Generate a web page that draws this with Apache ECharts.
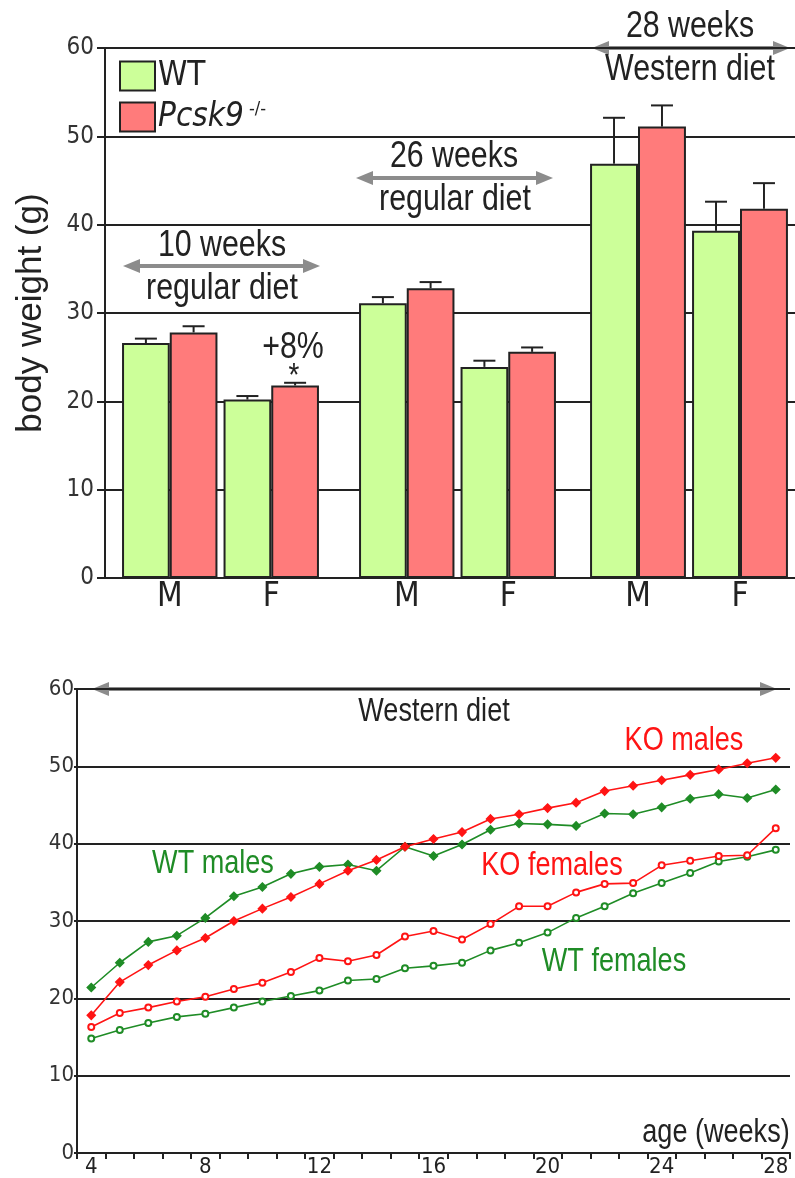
<!DOCTYPE html>
<html>
<head>
<meta charset="utf-8">
<script src="https://cdn.jsdelivr.net/npm/echarts@6/dist/echarts.min.js"></script>
<style>
html,body{margin:0;padding:0;background:#fff;}
#chart{width:795px;height:1178px;}
</style>
</head>
<body>
<div id="chart"></div>
<script>
// ---- Top chart data (body weight, g) ----
const barCategories = ['M', 'F'];
const wtMean = [26.6, 20.2, 31.1, 23.9, 46.9, 39.3];
const wtErr  = [0.5, 0.4, 0.7, 0.7, 5.2, 3.3];
const koMean = [27.8, 21.8, 32.8, 25.6, 51.1, 41.8];
const koErr  = [0.7, 0.3, 0.7, 0.5, 2.4, 2.9];
const yTicksTop = [0, 10, 20, 30, 40, 50, 60];

// ---- Bottom chart data (weekly weights on Western diet) ----
const weeks = ['4','5','6','7','8','9','10','11','12','13','14','15','16','17','18','19','20','21','22','23','24','25','26','27','28'];
const wtMales   = [21.4, 24.6, 27.3, 28.1, 30.4, 33.2, 34.4, 36.1, 37.0, 37.3, 36.5, 39.6, 38.4, 39.9, 41.8, 42.6, 42.5, 42.3, 43.9, 43.8, 44.7, 45.8, 46.4, 45.9, 47.0];
const koMales   = [17.8, 22.1, 24.3, 26.2, 27.8, 30.0, 31.6, 33.1, 34.8, 36.5, 37.9, 39.6, 40.6, 41.5, 43.2, 43.8, 44.6, 45.3, 46.8, 47.5, 48.2, 48.9, 49.6, 50.4, 51.1];
const koFemales = [16.3, 18.1, 18.8, 19.6, 20.2, 21.2, 22.0, 23.4, 25.2, 24.8, 25.6, 28.0, 28.7, 27.6, 29.6, 31.9, 31.9, 33.7, 34.8, 34.9, 37.2, 37.8, 38.4, 38.5, 42.0];
const wtFemales = [14.8, 15.9, 16.8, 17.6, 18.0, 18.8, 19.6, 20.3, 21.0, 22.3, 22.5, 23.9, 24.2, 24.6, 26.2, 27.2, 28.5, 30.4, 31.9, 33.6, 34.9, 36.2, 37.7, 38.3, 39.2];

const FONT = "'DejaVu Sans Condensed', 'Liberation Sans', sans-serif";
const ARIAL = "'Liberation Sans', Arial, sans-serif";
const GREEN_BAR = '#ccff99';
const RED_BAR = '#ff7b7b';
const RED = '#ff1414';
const GREEN = '#1f8c26';
const GRAY = '#8c8c8c';
const CAT_GAP = 0.06;

const chart = echarts.init(document.getElementById('chart'));

const barGrids = [
  {left: 119, width: 203},
  {left: 356, width: 203},
  {left: 587, width: 204}
];

const grids = [{left: 105, right: 0, top: 48, height: 530}];
barGrids.forEach(g => grids.push({left: g.left, width: g.width, top: 48, height: 530}));
grids.push({left: 77, right: 5, top: 689, bottom: 25});

const xAxes = [{
  gridIndex: 0, type: 'value', min: 0, max: 1,
  axisLine: {show: true, lineStyle: {color: '#222', width: 2}},
  axisTick: {show: false}, axisLabel: {show: false}, splitLine: {show: false}
}];
const yAxes = [{
  gridIndex: 0, type: 'value', min: 0, max: 60, interval: 10,
  axisLine: {show: true, lineStyle: {color: '#222', width: 2}},
  axisTick: {show: true, inside: false, length: 8, lineStyle: {color: '#222', width: 2}},
  axisLabel: {fontSize: 24, color: '#333', fontFamily: FONT, margin: 11,
    formatter: v => yTicksTop.includes(v) ? String(v) : ''},
  splitLine: {show: true, lineStyle: {color: '#222', width: 2}},
  name: 'body weight (g)', nameLocation: 'middle', nameGap: 56,
  nameTextStyle: {fontSize: 35, color: '#222', fontFamily: ARIAL}
}];
barGrids.forEach((g, i) => {
  xAxes.push({
    gridIndex: i + 1, type: 'category', data: barCategories,
    axisLine: {show: false}, axisTick: {show: false},
    axisLabel: {fontSize: 33, color: '#222', fontFamily: FONT, margin: 3}
  });
  yAxes.push({gridIndex: i + 1, type: 'value', min: 0, max: 60, show: false});
});
xAxes.push({
  gridIndex: 4, type: 'category', data: weeks, boundaryGap: true,
  axisLine: {show: true, lineStyle: {color: '#222', width: 2}},
  axisTick: {show: true, interval: 0, length: 6, alignWithLabel: false, lineStyle: {color: '#222', width: 2}},
  axisLabel: {interval: (idx, val) => Number(val) % 4 === 0, fontSize: 22, color: '#222', fontFamily: FONT, margin: 3}
});
yAxes.push({
  gridIndex: 4, type: 'value', min: 0, max: 60, interval: 10,
  axisLine: {show: true, lineStyle: {color: '#222', width: 2}},
  axisTick: {show: true, length: 3, lineStyle: {color: '#222', width: 2}},
  axisLabel: {fontSize: 22, color: '#333', fontFamily: FONT, margin: 3},
  splitLine: {show: true, lineStyle: {color: '#222', width: 2}}
});

function errRender(params, api) {
  const cat = api.value(0), mean = api.value(1), err = api.value(2), side = api.value(3);
  const base = api.coord([cat, mean]);
  const top = api.coord([cat, mean + err]);
  const catW = api.size([1, 0])[0];
  const barW = catW * (1 - CAT_GAP) / 2;
  const x = base[0] + side * barW / 2;
  const st = {stroke: '#222', lineWidth: 2};
  return {type: 'group', children: [
    {type: 'line', shape: {x1: x, y1: base[1], x2: x, y2: top[1]}, style: st},
    {type: 'line', shape: {x1: x - 11, y1: top[1], x2: x + 11, y2: top[1]}, style: st}
  ]};
}

const series = [];
barGrids.forEach((g, i) => {
  const a = 2 * i, b = 2 * i + 1;
  series.push({
    name: 'WT', type: 'bar', xAxisIndex: i + 1, yAxisIndex: i + 1,
    data: [wtMean[a], wtMean[b]], barGap: '0%', barCategoryGap: (CAT_GAP * 100) + '%',
    itemStyle: {color: GREEN_BAR, borderColor: '#222', borderWidth: 2}, z: 3
  });
  series.push({
    name: 'Pcsk9 -/-', type: 'bar', xAxisIndex: i + 1, yAxisIndex: i + 1,
    data: [koMean[a], koMean[b]], barGap: '0%', barCategoryGap: (CAT_GAP * 100) + '%',
    itemStyle: {color: RED_BAR, borderColor: '#222', borderWidth: 2}, z: 3
  });
  series.push({
    name: 'err' + i, type: 'custom', xAxisIndex: i + 1, yAxisIndex: i + 1,
    renderItem: errRender, z: 4,
    data: [
      [0, wtMean[a], wtErr[a], -1], [1, wtMean[b], wtErr[b], -1],
      [0, koMean[a], koErr[a], 1], [1, koMean[b], koErr[b], 1]
    ]
  });
});

function lineSeries(name, data, color, symbol, size) {
  return {
    name: name, type: 'line', xAxisIndex: 4, yAxisIndex: 4, data: data,
    symbol: symbol, symbolSize: size, showSymbol: true,
    lineStyle: {color: color, width: 1.6},
    itemStyle: {color: color, borderColor: color, borderWidth: 1.5},
    z: 5
  };
}
series.push(lineSeries('WT females', wtFemales, GREEN, 'emptyCircle', 6));
series.push(lineSeries('KO females', koFemales, RED, 'emptyCircle', 6));
series.push(lineSeries('WT males', wtMales, GREEN, 'diamond', 8));
series.push(lineSeries('KO males', koMales, RED, 'diamond', 8));

function arrow(x1, x2, y) {
  return {type: 'group', z: 20, children: [
    {type: 'line', shape: {x1: x1 + 10, y1: y, x2: x2 - 10, y2: y}, style: {stroke: GRAY, lineWidth: 4}},
    {type: 'polygon', shape: {points: [[x1, y], [x1 + 17, y - 7], [x1 + 17, y + 7]]}, style: {fill: GRAY}},
    {type: 'polygon', shape: {points: [[x2, y], [x2 - 17, y - 7], [x2 - 17, y + 7]]}, style: {fill: GRAY}}
  ]};
}
function label(text, x, y, color, size) {
  return {type: 'text', z: 20, x: x, y: y, scaleX: 0.82, style: {
    text: text, x: 0, y: 0, fill: color, font: size + 'px ' + ARIAL, textAlign: 'center', textVerticalAlign: 'middle'
  }};
}

const graphic = [
  arrow(123, 320, 266), label('10 weeks', 222, 246, '#222', 37), label('regular diet', 222, 289, '#222', 37),
  arrow(356, 553, 178), label('26 weeks', 454, 157, '#222', 37), label('regular diet', 455, 200, '#222', 37),
  arrow(592, 790, 48), label('28 weeks', 690, 27, '#222', 37), label('Western diet', 690, 70, '#222', 37),
  label('+8%', 293, 348, '#222', 37), label('*', 294, 377, '#222', 34),
  arrow(92, 777, 689), label('Western diet', 434, 712, '#222', 33),
  label('KO males', 684, 741, RED, 33),
  label('WT males', 213, 864, GREEN, 33),
  label('KO females', 552, 866, RED, 33),
  label('WT females', 614, 962, GREEN, 33),
  label('age (weeks)', 716, 1133, '#222', 33)
];

chart.setOption({
  backgroundColor: '#fff',
  animation: false,
  textStyle: {fontFamily: FONT},
  grid: grids,
  xAxis: xAxes,
  yAxis: yAxes,
  legend: {
    data: ['WT', 'Pcsk9 -/-'], orient: 'vertical', left: 119, top: 58, padding: 0,
    itemWidth: 35, itemHeight: 29, itemGap: 5, icon: 'rect', selectedMode: false,
    itemStyle: {borderColor: '#222', borderWidth: 2},
    textStyle: {fontSize: 33, color: '#222', fontFamily: FONT, lineHeight: 36, padding: [0, 0, 0, -2],
      rich: {
        i: {fontSize: 33, fontStyle: 'italic', color: '#222', fontFamily: FONT},
        s: {fontSize: 18, color: '#222', fontFamily: FONT, padding: [0, 0, 16, 0]}
      }},
    formatter: n => n === 'Pcsk9 -/-' ? '{i|Pcsk9}{s| -/-}' : n
  },
  graphic: graphic,
  series: series
});
</script>
</body>
</html>
